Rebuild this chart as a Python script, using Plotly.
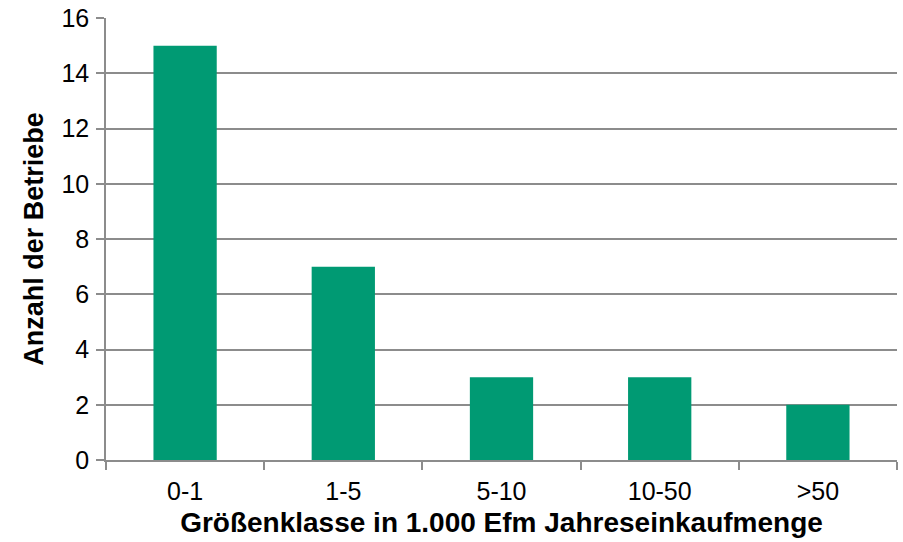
import plotly.graph_objects as go

categories = ["0-1", "1-5", "5-10", "10-50", ">50"]
values = [15, 7, 3, 3, 2]
y_ticks = [0, 2, 4, 6, 8, 10, 12, 14, 16]

fig = go.Figure(go.Bar(x=categories, y=values, marker=dict(color="#009A73", line=dict(width=0))))

fig.update_layout(
    width=903, height=542,
    margin=dict(l=106, r=6, t=18, b=82, autoexpand=False),
    plot_bgcolor="white", paper_bgcolor="white",
    bargap=0.6,
    showlegend=False,
    font=dict(family="Liberation Sans, Arial, sans-serif", size=25, color="black"),
)
fig.update_xaxes(
    showline=True, linecolor="#8c8c8c", linewidth=1.5,
    ticks="outside", tickson="boundaries", ticklen=8, tickcolor="#8c8c8c", tickwidth=1.5,
    ticklabelstandoff=8,
    showgrid=False,
    title=dict(text="<b>Größenklasse in 1.000 Efm Jahreseinkaufmenge</b>", font=dict(size=28), standoff=9),
    tickfont=dict(size=25),
)
fig.update_yaxes(
    range=[0, 16], tickvals=y_ticks,
    showline=True, linecolor="#8c8c8c", linewidth=1.5,
    ticks="outside", ticklen=8, tickcolor="#8c8c8c", tickwidth=1.5,
    ticklabelstandoff=2,
    showgrid=True, gridcolor="#8c8c8c", gridwidth=1.5,
    zeroline=False,
    title=dict(text="<b>Anzahl der Betriebe</b>", font=dict(size=27), standoff=10),
    tickfont=dict(size=25),
)

fig.write_html("out.html", config={"displayModeBar": False},
               post_script="document.body.style.margin='0';")
